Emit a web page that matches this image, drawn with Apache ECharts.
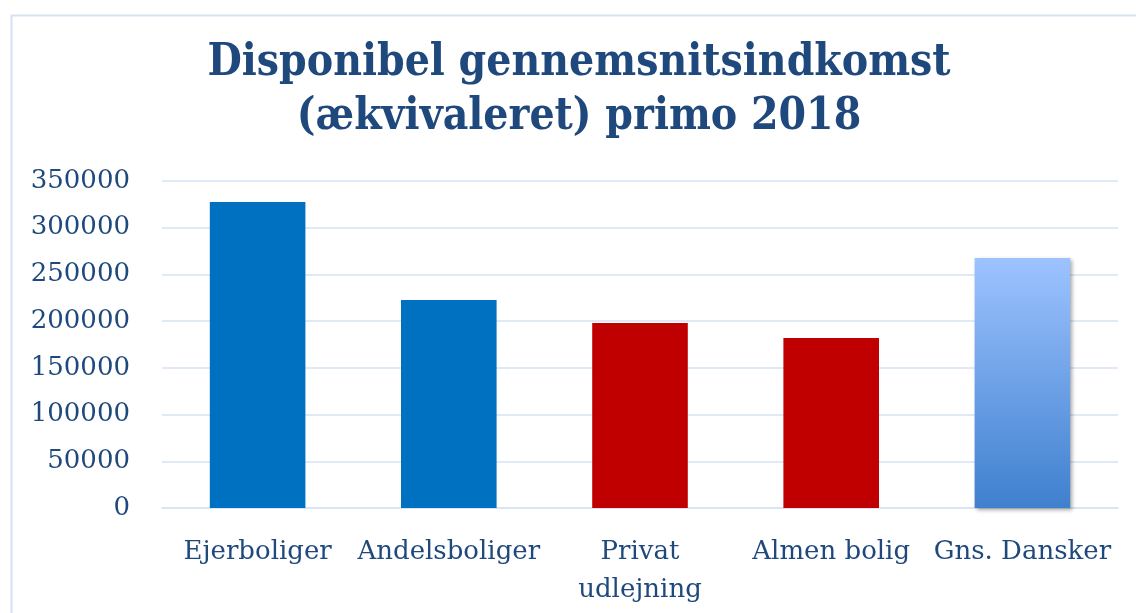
<!DOCTYPE html>
<html>
<head>
<meta charset="utf-8">
<script src="https://cdn.jsdelivr.net/npm/echarts@6/dist/echarts.min.js"></script>
<style>
  html, body { margin: 0; padding: 0; background: #fff; }
  #chart { width: 1136px; height: 613px; }
</style>
</head>
<body>
<div id="chart"></div>
<script>
// data
var categories = ['Ejerboliger', 'Andelsboliger', 'Privat\nudlejning', 'Almen bolig', 'Gns. Dansker'];
var incomes = [327500, 222500, 198000, 182000, 267500];
var yMin = 0;
var yMax = 350000;
var yStep = 50000;

var textBlue = '#1F497D';
var gridBlue = '#D6E2F3';
var serif = "'DejaVu Serif', serif";

// bar fills: two blue, two red, last one gradient
var barFills = [
  '#0070C0',
  '#0070C0',
  '#C00000',
  '#C00000',
  new echarts.graphic.LinearGradient(0, 0, 0, 1, [
    { offset: 0, color: '#9DC3FF' },
    { offset: 1, color: '#3F80CE' }
  ])
];

var chart = echarts.init(document.getElementById('chart'));

chart.setOption({
  animation: false,
  backgroundColor: '#fff',
  title: {
    text: 'Disponibel gennemsnitsindkomst\n(ækvivaleret) primo 2018',
    left: 574,
    top: 32,
    textAlign: 'center',
    textStyle: {
      fontFamily: "'DejaVu Serif Condensed', 'DejaVu Serif', serif",
      fontWeight: 'bold',
      fontSize: 44,
      lineHeight: 54,
      color: textBlue
    }
  },
  graphic: [{
    // chart frame (cut off at right and bottom)
    type: 'rect',
    left: 9,
    top: 13,
    shape: { x: 0, y: 0, width: 1300, height: 800 },
    style: { fill: 'none', stroke: gridBlue, lineWidth: 2 },
    silent: true,
    z: -1
  }],
  grid: {
    left: 162,
    right: 18,
    top: 181,
    bottom: 105
  },
  xAxis: {
    type: 'category',
    data: categories,
    axisTick: { show: false },
    axisLine: { lineStyle: { color: gridBlue, width: 1.5 } },
    axisLabel: {
      interval: 0,
      margin: 25,
      fontFamily: serif,
      fontSize: 26,
      lineHeight: 38,
      color: textBlue
    }
  },
  yAxis: {
    type: 'value',
    min: yMin,
    max: yMax,
    interval: yStep,
    axisLine: { show: false },
    axisTick: { show: false },
    splitLine: { lineStyle: { color: gridBlue, width: 1.5 } },
    axisLabel: {
      margin: 32,
      fontFamily: serif,
      fontSize: 26,
      color: textBlue,
      formatter: function (v) { return String(v); }
    }
  },
  series: [{
    type: 'bar',
    barWidth: '50%',
    data: incomes.map(function (v, i) {
      var item = { value: v, itemStyle: { color: barFills[i] } };
      if (i === 4) {
        item.itemStyle.shadowColor = 'rgba(0,0,0,0.35)';
        item.itemStyle.shadowBlur = 4;
        item.itemStyle.shadowOffsetX = 2;
        item.itemStyle.shadowOffsetY = 2;
      }
      return item;
    })
  }]
});
</script>
</body>
</html>
